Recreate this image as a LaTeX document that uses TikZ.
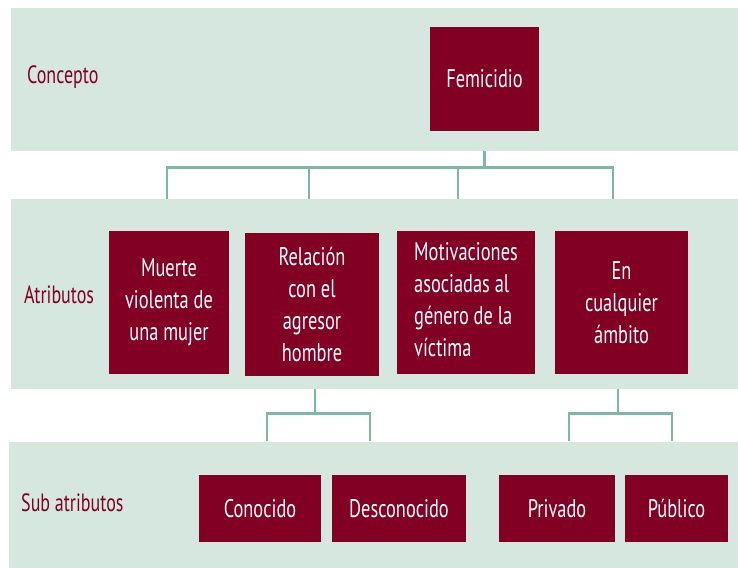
\documentclass[tikz,border=0pt]{standalone}
\usepackage{fontspec}
\setmainfont[FakeStretch=0.72]{PT Sans}
\usetikzlibrary{calc}
\definecolor{band}{HTML}{D6E7DF}
\definecolor{boxc}{HTML}{820024}
\definecolor{conn}{HTML}{7DB8A2}
\pgfdeclarelayer{connlayer}
\pgfdeclarelayer{bandlayer}
\pgfsetlayers{connlayer,bandlayer,main}
\tikzset{
  bandbox/.style={fill=band, draw=none},
  item/.style={fill=boxc, draw=none, text=white, inner sep=0pt, align=center,
    font=\fontsize{25.5}{32}\selectfont},
  lbl/.style={text=boxc, anchor=west, inner sep=0pt, font=\fontsize{25}{32}\selectfont},
  connline/.style={draw=conn, line width=2.6pt}
}
\begin{document}
\begin{tikzpicture}[x=1pt,y=-1pt]
\useasboundingbox (0,0) rectangle (738,568);
\begin{pgfonlayer}{bandlayer}
  \fill[bandbox] (11,8) rectangle (738,151);
  \fill[bandbox] (11,199) rectangle (738,389);
  \fill[bandbox] (9,442) rectangle (738,568);
\end{pgfonlayer}
% labels
\node[lbl] (lconcepto) at (27,77) {Concepto};
\node[lbl] (latrib) at (24,295) {Atributos};
\node[lbl] (lsub) at (21,503) {Sub atributos};
% boxes
\node[item, minimum width=109pt, minimum height=104pt] (fem) at (484.5,79) {Femicidio};
\node[item, minimum width=120pt, minimum height=143pt] (muerte) at (169,302.5) {Muerte\\violenta de\\una mujer};
\node[item, minimum width=134pt, minimum height=143pt] (rel) at (312,304.5) {Relación\\con el\\agresor\\hombre};
\node[item, minimum width=138pt, minimum height=143pt] (mot) at (466,302.5) {\begin{tabular}{@{}l@{}}Motivaciones\\asociadas al\\género de la\\víctima\end{tabular}};
\node[item, minimum width=133pt, minimum height=143pt] (amb) at (621.5,302.5) {En\\cualquier\\ámbito};
\node[item, minimum width=122pt, minimum height=67pt] (con) at (260,508.5) {Conocido};
\node[item, minimum width=134pt, minimum height=67pt] (des) at (399,508.5) {Desconocido};
\node[item, minimum width=116pt, minimum height=67pt] (pri) at (557,508.5) {Privado};
\node[item, minimum width=103pt, minimum height=67pt] (pub) at (676.5,508.5) {Público};
% connector coordinates
\coordinate (t1) at (167,201);
\coordinate (t2) at (309,201);
\coordinate (t3) at (458,201);
\coordinate (t4) at (613,201);
\coordinate (s1) at (267,441);
\coordinate (s2) at (370,441);
\coordinate (s3) at (569,441);
\coordinate (s4) at (672,441);
\begin{pgfonlayer}{connlayer}
  \draw[connline] (fem.south) -- ++(0,36) coordinate (fb);
  \draw[connline] (t1) |- (fb) -| (t4);
  \draw[connline] (t2) -- (t2 |- fb);
  \draw[connline] (t3) -- (t3 |- fb);
  \draw[connline] ($(rel.south)+(3,0)$) -- ++(0,37) coordinate (rb);
  \draw[connline] (s1) |- (rb) -| (s2);
  \draw[connline] ($(amb.south)+(-3.5,0)$) -- ++(0,39) coordinate (ab);
  \draw[connline] (s3) |- (ab) -| (s4);
\end{pgfonlayer}
\end{tikzpicture}
\end{document}
